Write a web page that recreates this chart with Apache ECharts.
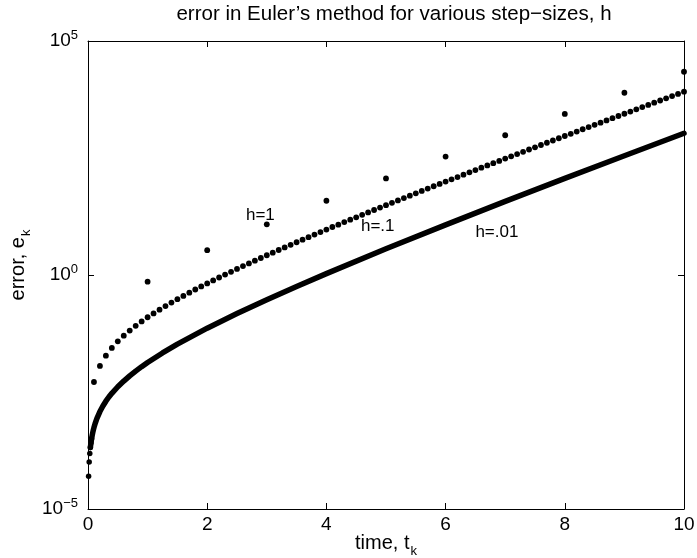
<!DOCTYPE html>
<html>
<head>
<meta charset="utf-8">
<script src="https://cdn.jsdelivr.net/npm/echarts@6/dist/echarts.min.js"></script>
<style>
  html, body { margin: 0; padding: 0; background: #fff; }
  #chart { width: 697px; height: 558px; }
</style>
</head>
<body>
<div id="chart"></div>
<script>
// step sizes used in the three runs
const stepH1 = 1
const stepH01 = 0.1

// h=1 errors, t = 1..10
const errH1 = [0.72, 3.4, 12.1, 38.6, 116, 339, 969, 2760, 7840, 22000]

// h=.1 errors, t = 0.1..10
const errH01 = [
  0.00517, 0.0114, 0.0189, 0.0277, 0.0382, 0.0506, 0.0650, 0.0820, 0.102, 0.125,
  0.151, 0.182, 0.217, 0.258, 0.304, 0.358, 0.419, 0.490, 0.570, 0.662,
  0.766, 0.885, 1.02, 1.17, 1.35, 1.55, 1.77, 2.02, 2.31, 2.64,
  3.00, 3.42, 3.89, 4.42, 5.01, 5.69, 6.44, 7.30, 8.26, 9.34,
  10.6, 11.9, 13.5, 15.2, 17.1, 19.3, 21.7, 24.5, 27.6, 31.0,
  34.9, 39.2, 44.1, 49.5, 55.6, 62.5, 70.1, 78.7, 88.2, 98.9,
  111, 124, 139, 156, 175, 196, 219, 245, 274, 307,
  343, 384, 429, 480, 536, 599, 669, 748, 835, 933,
  1040, 1160, 1300, 1450, 1620, 1800, 2010, 2240, 2500, 2790,
  3110, 3470, 3870, 4310, 4800, 5350, 5960, 6640, 7400, 8250
]

// h=.01 run
const tH001 = [0.01, 0.02, 0.03, 0.04, 0.05, 0.06, 0.07, 0.08, 0.09, 0.1,
  0.12, 0.15, 0.2, 0.25, 0.3, 0.35, 0.4, 0.5, 0.6, 0.7, 0.8, 0.9, 1,
  1.25, 1.5, 2, 2.5, 3, 3.5, 4, 5, 6, 7, 8, 9, 10]
const errH001 = [5.02e-5, 1.01e-4, 1.54e-4, 2.07e-4, 2.61e-4, 3.16e-4, 3.73e-4, 4.30e-4, 4.89e-4, 5.49e-4,
  6.72e-4, 8.66e-4, 1.21e-3, 1.59e-3, 2.01e-3, 2.47e-3, 2.96e-3, 4.09e-3, 5.42e-3, 6.99e-3, 8.83e-3, 1.10e-2, 1.35e-2,
  2.16e-2, 3.33e-2, 7.30e-2, 0.150, 0.297, 0.571, 1.07, 3.64, 11.8, 37.5, 116, 354, 1070]

// text annotations (data coords)
const noteText = ['h=1', 'h=.1', 'h=.01']
const noteT = [2.65, 4.58, 6.5]
const noteErr = [19, 11, 8.3]

const font = 'Liberation Sans'

let dataH1 = errH1.map((e, i) => [+((i + 1) * stepH1).toFixed(2), e])
let dataH01 = errH01.map((e, i) => [+((i + 1) * stepH01).toFixed(2), e])
let dataH001 = tH001.map((t, i) => [t, errH001[i]])
let notes = noteText.map((s, i) => ({ value: [noteT[i], noteErr[i]], name: s }))

function supLabel(v) {
  let p = Math.round(Math.log10(v))
  let s = p < 0 ? '\u2212' + (-p) : '' + p
  return '{b|10}{e|' + s + '}'
}

const axisCommon = {
  axisLine: { onZero: false, lineStyle: { color: '#000', width: 1 } },
  axisTick: { inside: true, length: 6, lineStyle: { color: '#000' } },
  splitLine: { show: false }
}

const nameRich = {
  a: { fontSize: 20, color: '#000', fontFamily: font },
  s: { fontSize: 13, color: '#000', fontFamily: font, padding: [16, 0, 0, 1] }
}

let myChart = echarts.init(document.getElementById('chart'), null, { renderer: 'canvas' })

let option = {
  animation: false,
  backgroundColor: '#fff',
  textStyle: { fontFamily: font },
  grid: { left: 88, right: 13, top: 41, bottom: 49, outerBoundsMode: 'none', containLabel: false },
  graphic: [{
    type: 'text',
    x: 394,
    y: 4,
    style: {
      text: 'error in Euler\u2019s method for various step\u2212sizes, h',
      font: '20.5px "Liberation Sans"',
      fill: '#000',
      align: 'center',
      verticalAlign: 'top'
    }
  }],
  xAxis: [
    Object.assign({}, axisCommon, {
      type: 'value', min: 0, max: 10, interval: 2,
      axisLabel: { color: '#000', fontSize: 19, margin: 6, fontFamily: font },
      name: '{a|time, t}{s|k}',
      nameLocation: 'middle',
      nameGap: 20,
      nameMoveOverlap: false,
      nameTextStyle: { rich: nameRich }
    }),
    Object.assign({}, axisCommon, {
      type: 'value', min: 0, max: 10, interval: 2, position: 'top',
      axisLabel: { show: false }
    })
  ],
  yAxis: [
    Object.assign({}, axisCommon, {
      type: 'log', logBase: 100000, min: 1e-5, max: 1e5,
      axisLabel: {
        margin: 10,
        formatter: supLabel,
        rich: {
          b: { fontSize: 19, color: '#000', fontFamily: font },
          e: { fontSize: 13, color: '#000', fontFamily: font, padding: [0, 0, 12, 0] }
        }
      },
      name: '{a|error, e}{s|k}',
      nameLocation: 'middle',
      nameGap: 55,
      nameMoveOverlap: false,
      nameTextStyle: {
        rich: {
          a: { fontSize: 20, color: '#000', fontFamily: font, padding: [0, 0, 0, 20] },
          s: { fontSize: 13, color: '#000', fontFamily: font, padding: [16, 0, 0, 1] }
        }
      }
    }),
    Object.assign({}, axisCommon, {
      type: 'log', logBase: 100000, min: 1e-5, max: 1e5, position: 'right',
      axisLabel: { show: false }
    })
  ],
  series: [
    {
      name: 'h=.01 curve', type: 'line', data: dataH001.slice(3),
      showSymbol: false, symbol: 'none',
      lineStyle: { color: '#000', width: 5.5, cap: 'round', join: 'round' }
    },
    {
      name: 'h=.01 start', type: 'scatter', data: dataH001.slice(0, 6),
      symbolSize: 5.5, itemStyle: { color: '#000', opacity: 1 }
    },
    {
      name: 'h=.1', type: 'scatter', data: dataH01,
      symbolSize: 5.8, itemStyle: { color: '#000', opacity: 1 }
    },
    {
      name: 'h=1', type: 'scatter', data: dataH1,
      symbolSize: 5.8, itemStyle: { color: '#000', opacity: 1 }
    },
    {
      name: 'notes', type: 'scatter', data: notes, symbolSize: 0,
      itemStyle: { opacity: 1 },
      label: {
        show: true, position: 'right', distance: 0,
        formatter: p => p.name,
        color: '#000', fontSize: 17, fontFamily: font
      }
    }
  ]
}

myChart.setOption(option)
</script>
</body>
</html>
